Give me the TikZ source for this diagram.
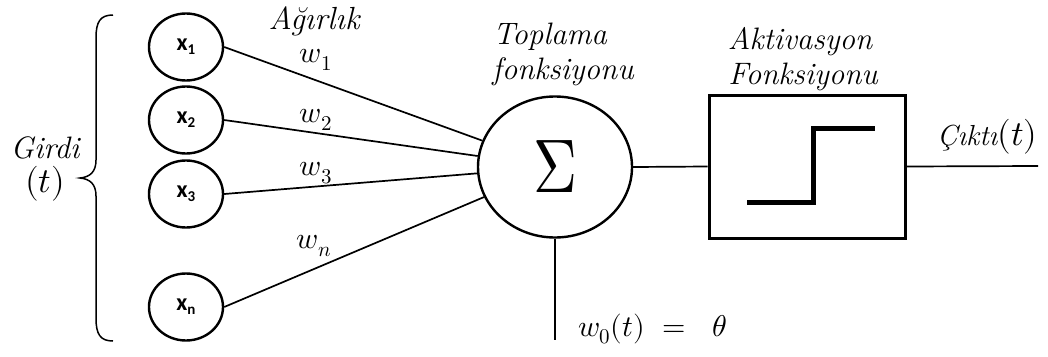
\documentclass[tikz,border=0pt]{standalone}
\usepackage{fontspec}
\usepackage{unicode-math}
\setmathfont{Latin Modern Math}
\newfontfamily\inpfont{Carlito}
\usetikzlibrary{shapes.geometric}
\newcommand{\insub}[1]{x\raisebox{-4pt}{\fontsize{15}{17}\selectfont #1}}
\tikzset{
  inp/.style={ellipse,draw,line width=2.4pt,minimum width=74pt,minimum height=67pt,inner sep=0pt,font=\inpfont\bfseries\fontsize{24}{26}\selectfont},
  conn/.style={line width=1.7pt},
  lbl/.style={inner sep=0pt,font=\itshape\fontsize{31}{34}\selectfont},
  wlbl/.style={inner sep=0pt,font=\fontsize{30}{34}\selectfont},
}
\begin{document}
\begin{tikzpicture}[x=1pt,y=-1pt]
\useasboundingbox (0,0) rectangle (1048,356);
% inputs
\node[inp] (x1) at (186,47) {\insub{1}};
\node[inp] (x2) at (186,120) {\insub{2}};
\node[inp] (x3) at (186,194) {\insub{3}};
\node[inp] (xn) at (186,307) {\insub{n}};
% brace
\draw[line width=1.5pt] (113,15) .. controls (100,15) and (96,22) .. (96,38)
  -- (96,160) .. controls (96,172) and (90,177) .. (80,178)
  .. controls (90,179) and (96,184) .. (96,196)
  -- (96,318) .. controls (96,334) and (100,341) .. (113,341);
\node[lbl] (girdi) at (45,148) {Girdi};
\node[wlbl,font=\fontsize{35}{38}\selectfont] (gt) at (45,184) {$(t)$};
% summation
\node[ellipse,draw,line width=2.4pt,minimum width=154pt,minimum height=141pt,inner sep=0pt] (sum) at (555,167)
  {\fontsize{76}{80}\selectfont\scalebox{0.8}[1]{$\Sigma$}};
\draw[conn] (x1.east) -- (sum);
\draw[conn] (x2.east) -- (sum);
\draw[conn] (x3.east) -- (sum);
\draw[conn] (xn.east) -- (sum);
% labels
\node[lbl,font=\itshape\fontsize{32}{34}\selectfont] (agirlik) at (314,21) {Ağırlık};
\node[wlbl] (w1) at (316,60) {$w_1$};
\node[wlbl] (w2) at (316,120) {$w_2$};
\node[wlbl] (w3) at (316,173) {$w_3$};
\node[wlbl] (wn) at (314,246) {$w_n$};
\node[lbl] (top1) at (550,37) {Toplama};
\node[lbl] (top2) at (563,72) {fonksiyonu};
% bias
\coordinate (bias) at (555,340);
\draw[conn] (sum.south) -- (bias);
\node[wlbl,anchor=west] (w0) at (578,329) {$w_0(t)\ =\ \ \theta$};
% activation
\node[draw,line width=3pt,minimum width=196pt,minimum height=143pt,inner sep=0pt] (box) at (807,166.5) {};
\draw[line width=5pt] (747,202) -- (813,202) -- (813,128) -- (875,128);
\node[lbl] (act1) at (800,42) {Aktivasyon};
\node[lbl] (act2) at (803,77) {Fonksiyonu};
\draw[conn] (sum.east) -- (box.west);
\coordinate (out) at (1038,166);
\draw[conn] (box.east) -- (out);
\node[inner sep=0pt,anchor=west] (cikti) at (937,137) {\itshape\fontsize{29}{32}\selectfont Çıktı\fontsize{35}{38}\selectfont$(t)$};
\end{tikzpicture}
\end{document}
